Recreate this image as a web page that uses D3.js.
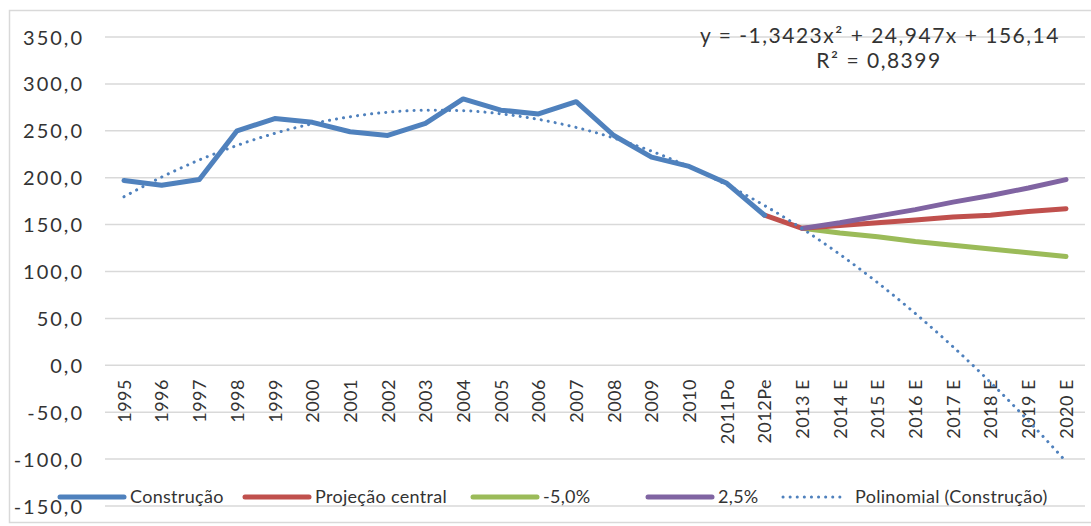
<!DOCTYPE html>
<html>
<head>
<meta charset="utf-8">
<script src="https://cdn.jsdelivr.net/npm/d3@7"></script>
<style>
  body { margin: 0; background: #fff; }
  svg text { font-family: "Lato", "Open Sans", sans-serif; fill: #333; }
</style>
</head>
<body>
<div id="chart"></div>
<script>
// categories on the x axis
var categories = ["1995","1996","1997","1998","1999","2000","2001","2002","2003","2004","2005","2006",
    "2007","2008","2009","2010","2011Po","2012Pe","2013 E","2014 E","2015 E","2016 E","2017 E","2018 E","2019 E","2020 E"];

// Construção (historic), 1995 .. 2012Pe
var construcao = [197,192,198,250,263,259,249,245,258,284,272,268,281,245,222,212,194,160];
// projections, 2012Pe/2013 E .. 2020 E
var projCentralCats = ["2012Pe","2013 E","2014 E","2015 E","2016 E","2017 E","2018 E","2019 E","2020 E"];
var projCentral = [160,146,149,152,155,158,160,164,167];
var projCats = ["2013 E","2014 E","2015 E","2016 E","2017 E","2018 E","2019 E","2020 E"];
var menos5 = [146,141,137,132,128,124,120,116];
var mais25 = [146,152,159,166,174,181,189,198];
// polynomial trend as drawn, one value per category
var polinomial = [179.7,200.7,218.9,234.4,247.3,257.5,265.0,269.8,271.9,271.4,268.1,262.2,253.6,242.3,
    228.3,211.7,192.3,170.3,145.6,118.2,88.1,55.3,19.8,-18.3,-59.1,-102.6];

var yTicks = [350,300,250,200,150,100,50,0,-50,-100,-150];

var width = 1091, height = 526;
var svg = d3.select("#chart").append("svg")
    .attr("width", width).attr("height", height);

// outer chart frame
svg.append("rect")
    .attr("x", 9.5).attr("y", 10.5)
    .attr("width", width + 10).attr("height", height - 14)
    .attr("fill", "none").attr("stroke", "#d9d9d9").attr("stroke-width", 1.5);

var x = d3.scalePoint().domain(categories).range([124, 1066]);
var y = d3.scaleLinear().domain([-150, 350]).range([506, 37]);

// gridlines
svg.append("g").selectAll("line").data(yTicks).enter().append("line")
    .attr("x1", 105).attr("x2", 1085)
    .attr("y1", function(d) { return y(d); }).attr("y2", function(d) { return y(d); })
    .attr("stroke", "#d9d9d9").attr("stroke-width", 1.5);

// y axis labels
var yAxis = d3.axisLeft(y).tickValues(yTicks).tickSize(0).tickPadding(0)
    .tickFormat(function(d) { return d3.format(".1f")(d).replace(".", ",").replace("−", "-"); });
var gy = svg.append("g").attr("transform", "translate(84,0)").call(yAxis);
gy.select(".domain").remove();
gy.selectAll("text").style("font-size", "20px").style("letter-spacing", "2px")
    .attr("dy", "0.35em").attr("fill", "#333");

// x axis labels, rotated
var xAxis = d3.axisBottom(x).tickSize(0).tickPadding(0);
var gx = svg.append("g").attr("transform", "translate(0,379)").call(xAxis);
gx.select(".domain").remove();
gx.selectAll("text")
    .style("font-size", "18px")
    .style("letter-spacing", "0.5px")
    .attr("fill", "#333")
    .attr("text-anchor", "end")
    .attr("transform", "rotate(-90)")
    .attr("x", 0).attr("y", 0).attr("dy", "0.35em");

var line = d3.line()
    .x(function(d) { return x(d[0]); })
    .y(function(d) { return y(d[1]); });

function drawSeries(cats, vals, color) {
    svg.append("path")
        .datum(d3.zip(cats, vals))
        .attr("d", line)
        .attr("fill", "none")
        .attr("stroke", color)
        .attr("stroke-width", 5)
        .attr("stroke-linejoin", "round")
        .attr("stroke-linecap", "round");
}

drawSeries(projCats, menos5, "#9BBB59");
drawSeries(projCentralCats, projCentral, "#C0504D");
drawSeries(projCats, mais25, "#8064A2");
drawSeries(categories.slice(0, construcao.length), construcao, "#4F81BD");

// trend line (dotted)
svg.append("path")
    .datum(d3.zip(categories, polinomial))
    .attr("d", line.curve(d3.curveMonotoneX))
    .attr("fill", "none")
    .attr("stroke", "#4F81BD")
    .attr("stroke-width", 3)
    .attr("stroke-linecap", "round")
    .attr("stroke-dasharray", "0.1,7");

// equation
var eq = svg.append("g");
eq.append("text").attr("x", 880).attr("y", 43).attr("text-anchor", "middle")
    .style("font-size", "21px").style("letter-spacing", "1.5px")
    .text("y = -1,3423x² + 24,947x + 156,14");
eq.append("text").attr("x", 879).attr("y", 68).attr("text-anchor", "middle")
    .style("font-size", "21px").style("letter-spacing", "1.5px")
    .text("R² = 0,8399");

// legend
var legendItems = [
    {name: "Construção", color: "#4F81BD", x: 60, dotted: false},
    {name: "Projeção central", color: "#C0504D", x: 245, dotted: false},
    {name: "-5,0%", color: "#9BBB59", x: 473, dotted: false},
    {name: "2,5%", color: "#8064A2", x: 648, dotted: false},
    {name: "Polinomial (Construção)", color: "#4F81BD", x: 783, dotted: true}
];
var lg = svg.append("g").selectAll("g").data(legendItems).enter().append("g")
    .attr("transform", function(d) { return "translate(" + d.x + ",497)"; });
lg.append("line")
    .attr("x1", 0).attr("x2", function(d) { return d.dotted ? 60 : 64; })
    .attr("stroke", function(d) { return d.color; })
    .attr("stroke-width", function(d) { return d.dotted ? 3 : 5; })
    .attr("stroke-linecap", "round")
    .attr("stroke-dasharray", function(d) { return d.dotted ? "0.1,7" : null; });
lg.append("text")
    .attr("x", function(d) { return d.dotted ? 72 : 70; })
    .attr("dy", "0.35em")
    .style("font-size", "18px")
    .style("letter-spacing", "0.3px")
    .text(function(d) { return d.name; });
</script>
</body>
</html>
